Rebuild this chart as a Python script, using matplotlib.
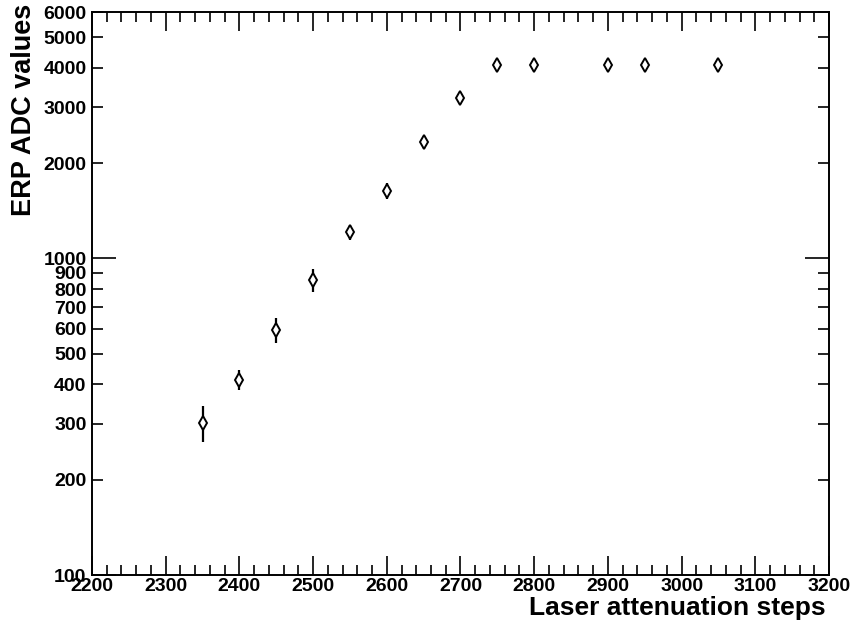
import matplotlib
matplotlib.use("Agg")
import matplotlib.pyplot as plt
from matplotlib.ticker import FixedLocator, FixedFormatter, MultipleLocator

plt.rcParams['font.family'] = ['Liberation Sans', 'DejaVu Sans']
plt.rcParams['font.weight'] = 'bold'

# Laser attenuation scan: ERP ADC response (saturates at 4095)
steps = [2350, 2400, 2450, 2500, 2550, 2600, 2650, 2700, 2750, 2800, 2900, 2950, 3050]
adc = [303, 413, 594, 855, 1211, 1630, 2333, 3212, 4095, 4095, 4095, 4095, 4095]
adc_err = [40, 30, 53, 70, 65, 95, 110, 0, 0, 0, 0, 0, 0]

ytick_vals = [100, 200, 300, 400, 500, 600, 700, 800, 900, 1000,
              2000, 3000, 4000, 5000, 6000]

fig = plt.figure(figsize=(8.54, 6.28), dpi=100)
ax = fig.add_axes([92 / 854, 1 - 575 / 628, (829 - 92) / 854, (575 - 12) / 628])

ax.errorbar(steps, adc, yerr=adc_err, fmt='d', ms=7, mfc='white', mec='black',
            mew=1.4, ecolor='black', elinewidth=1.6, capsize=0, zorder=3)

ax.set_yscale('log')
ax.set_xlim(2200, 3200)
ax.set_ylim(100, 6000)

ax.xaxis.set_major_locator(MultipleLocator(100))
ax.xaxis.set_minor_locator(MultipleLocator(20))

major_y = [100, 1000]
ax.yaxis.set_major_locator(FixedLocator(major_y))
ax.yaxis.set_major_formatter(FixedFormatter([str(v) for v in major_y]))
minor_y = [v for v in ytick_vals if v not in major_y]
ax.yaxis.set_minor_locator(FixedLocator(minor_y))
ax.yaxis.set_minor_formatter(FixedFormatter([str(v) for v in minor_y]))

for a in ('x', 'y'):
    ax.tick_params(axis=a, which='both', direction='in', top=True, right=True,
                   width=1.2, labelsize=14, colors='black')
ax.tick_params(axis='x', which='major', length=14, pad=2)
ax.tick_params(axis='x', which='minor', length=7)
ax.tick_params(axis='y', which='major', length=17, pad=4)
ax.tick_params(axis='y', which='minor', length=8, pad=4)

for lab in ax.get_xticklabels() + ax.get_yticklabels(which='both'):
    lab.set_fontweight('bold')

for s in ax.spines.values():
    s.set_linewidth(1.4)

fig.text(826 / 854, 1 - 608 / 628, 'Laser attenuation steps', ha='right', va='center',
         fontsize=19, fontweight='bold')
fig.text(24 / 854, 1 - 4 / 628, 'ERP ADC values', ha='center', va='top',
         rotation=90, fontsize=19.5, fontweight='bold')

fig.savefig('out.png', dpi=100)
